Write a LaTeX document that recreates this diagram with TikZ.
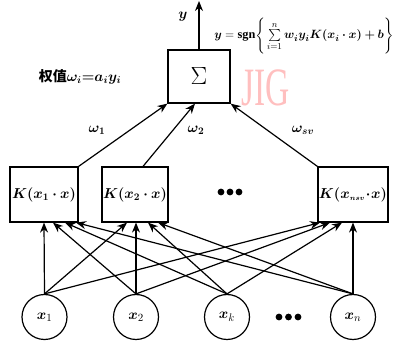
\documentclass[tikz,border=0pt]{standalone}
\usepackage{amsmath,bm}
\usepackage{fontspec}
\setmainfont{Liberation Serif}
\newfontfamily\cjk{Noto Sans CJK SC}
\usetikzlibrary{arrows.meta}
\begin{document}
\begin{tikzpicture}[x=1pt,y=-1pt,
  kbox/.style={draw,line width=1.2pt,minimum height=55pt,inner sep=0pt,font=\fontsize{14.5}{17}\selectfont},
  inp/.style={draw,circle,line width=1.2pt,minimum size=45pt,inner sep=0pt,font=\fontsize{15}{18}\selectfont},
  arr/.style={line width=1.2pt,-{Stealth[length=10pt,width=8pt]}},
  lbl/.style={inner sep=0pt,font=\fontsize{14}{17}\selectfont},
  dot/.style={fill=black}]
\useasboundingbox (0,0) rectangle (402,347);
% watermark
\node[text=red!25,font=\fontsize{54}{54}\selectfont,xscale=0.62] (wm) at (266,88) {JIG};
% summation box
\node[draw,line width=1.2pt,minimum width=62pt,minimum height=53pt,inner sep=0pt,font=\fontsize{27}{30}\selectfont] (sig) at (199,76.5) {$\Sigma$};
% kernel boxes
\node[kbox,minimum width=68pt] (k1) at (44,194.5) {$\bm{K(x_1\cdot x)}$};
\node[kbox,minimum width=66pt] (k2) at (135,194.5) {$\bm{K(x_2\cdot x)}$};
\node[kbox,minimum width=70pt] (k3) at (353,194.5) {$\bm{K(x_{\scriptscriptstyle nsv}\!\cdot\! x)}$};
% inputs
\node[inp] (i1) at (44.5,317) {$\bm{x}_1$};
\node[inp] (i2) at (136,317) {$\bm{x}_2$};
\node[inp] (ik) at (227,317) {$\bm{x}_k$};
\node[inp] (in) at (353,317) {$\bm{x}_n$};
% dots
\foreach \xx in {221,230,239} \fill[dot] (\xx,192) circle (3.4pt);
\foreach \xx in {279,288.5,298} \fill[dot] (\xx,317) circle (3.4pt);
% output
\coordinate (out) at (199,1);
\draw[arr] (sig.north) -- (out);
\node[lbl] (ylab) at (183,17) {$\bm{y}$};
\node[lbl,font=\fontsize{12.3}{15}\selectfont] (form) at (304,36) {$\bm{y}=\mathbf{sgn}\Bigg\{\sum\limits_{i=1}^{n}\bm{w_i y_i K(x_i\cdot x)+b}\Bigg\}$};
\node[lbl] (wlab) at (80,77) {{\cjk\bfseries 权值}$\bm{\omega_i{=}a_i y_i}$};
% kernel -> sum
\draw[arr] (k1.north east) -- (sig.south west);
\draw[arr] ([xshift=8pt]k2.north) -- ([xshift=-4pt]sig.south);
\draw[arr] (k3.north west) -- (sig.south east);
\node[lbl] (w1) at (97,130) {$\bm{\omega_1}$};
\node[lbl] (w2) at (196,130) {$\bm{\omega_2}$};
\node[lbl] (w3) at (303,130) {$\bm{\omega_{sv}}$};
% inputs -> kernels
\draw[arr] (i1.north) -- (k1.south);
\draw[arr] (i2.north) -- ([xshift=9pt]k1.south);
\draw[arr] (ik.north) -- ([xshift=21pt]k1.south);
\draw[arr] (in.north) -- ([xshift=32pt]k1.south);
\draw[arr] (i1.north) -- ([xshift=-8pt]k2.south);
\draw[arr] (i2.north) -- ([xshift=1pt]k2.south);
\draw[arr] (ik.north) -- ([xshift=13pt]k2.south);
\draw[arr] (in.north) -- ([xshift=23pt]k2.south);
\draw[arr] (i1.north) -- ([xshift=-33pt]k3.south);
\draw[arr] (i2.north) -- ([xshift=-23pt]k3.south);
\draw[arr] (ik.north) -- ([xshift=-11pt]k3.south);
\draw[arr] (in.north) -- (k3.south);
\end{tikzpicture}
\end{document}
